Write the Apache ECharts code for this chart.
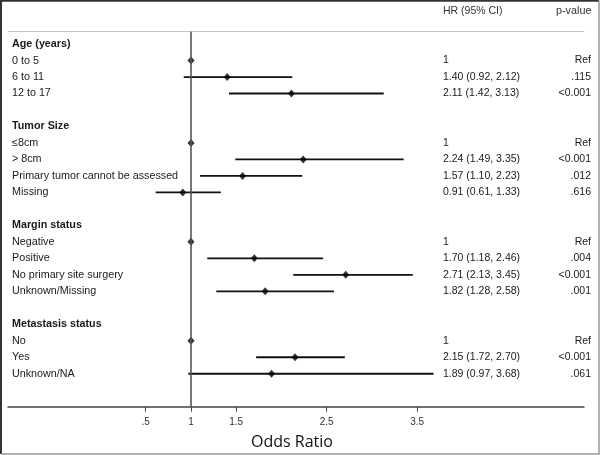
<!DOCTYPE html>
<html>
<head>
<meta charset="utf-8">
<script src="https://cdn.jsdelivr.net/npm/echarts@6/dist/echarts.min.js"></script>
<style>html,body{margin:0;padding:0;background:#fff;}#c{width:600px;height:455px;}</style>
</head>
<body>
<div id="c"></div>
<script>
const rowLabels = ['Age (years)','0 to 5','6 to 11','12 to 17','',
  'Tumor Size','≤8cm','> 8cm','Primary tumor cannot be assessed','Missing','',
  'Margin status','Negative','Positive','No primary site surgery','Unknown/Missing','',
  'Metastasis status','No','Yes','Unknown/NA'];
const headerRows = [0,5,11,17];
const hrValues = [null,1,1.40,2.11,null, null,1,2.24,1.57,0.91,null, null,1,1.70,2.71,1.82,null, null,1,2.15,1.89];
const ciLow    = [null,null,0.92,1.42,null, null,null,1.49,1.10,0.61,null, null,null,1.18,2.13,1.28,null, null,null,1.72,0.97];
const ciHigh   = [null,null,2.12,3.13,null, null,null,3.35,2.23,1.33,null, null,null,2.46,3.45,2.58,null, null,null,2.70,3.68];
const hrText = ['','1','1.40 (0.92, 2.12)','2.11 (1.42, 3.13)','',
  '','1','2.24 (1.49, 3.35)','1.57 (1.10, 2.23)','0.91 (0.61, 1.33)','',
  '','1','1.70 (1.18, 2.46)','2.71 (2.13, 3.45)','1.82 (1.28, 2.58)','',
  '','1','2.15 (1.72, 2.70)','1.89 (0.97, 3.68)'];
const pText = ['','Ref','.115','<0.001','',
  '','Ref','<0.001','.012','.616','',
  '','Ref','.004','<0.001','.001','',
  '','Ref','<0.001','.061'];
const tickValues = [0.5,1,1.5,2.5,3.5];
const tickLabels = ['.5','1','1.5','2.5','3.5'];

const FONT = '"Liberation Sans", Arial, sans-serif';
const chart = echarts.init(document.getElementById('c'));

const pointData = [];
const ciData = [];
const rowData = [];
rowLabels.forEach((l, i) => {
  rowData.push([0, i]);
  if (hrValues[i] != null) pointData.push([hrValues[i], i]);
  if (ciLow[i] != null) ciData.push([ciLow[i], ciHigh[i], i]);
});

chart.setOption({
  animation: false,
  grid: { left: 8, right: 16, top: 31.7, bottom: 48.3 },
  xAxis: [{
    type: 'value', min: -1.022, max: 5.343, position: 'bottom',
    axisLine: { show: true, onZero: false, lineStyle: { color: '#444', width: 1.5 } },
    axisTick: { show: true, customValues: tickValues, length: 5, lineStyle: { color: '#444', width: 1 } },
    axisLabel: { customValues: tickValues, margin: 11, fontSize: 10, color: '#333', fontFamily: FONT,
      formatter: v => tickLabels[tickValues.indexOf(v)] || '' },
    splitLine: { show: false }
  }, {
    type: 'value', min: -1.022, max: 5.343, position: 'top',
    axisLine: { show: true, onZero: false, lineStyle: { color: '#c4c4c4', width: 1 } },
    axisTick: { show: false }, axisLabel: { show: false }, splitLine: { show: false }
  }],
  yAxis: { type: 'value', inverse: true, min: -0.75, max: 22, show: false },
  graphic: [
    { type: 'polyline', shape: { points: [[1, 454], [1, 0.75], [599, 0.75]] }, style: { stroke: '#333', lineWidth: 2, fill: null } },
    { type: 'polyline', shape: { points: [[599, 0.75], [599, 454], [1, 454]] }, style: { stroke: '#999', lineWidth: 1.5, fill: null } },
    { type: 'text', left: 443, top: 6, style: { text: 'HR (95% CI)', font: '10.5px ' + FONT, fill: '#333' } },
    { type: 'text', left: 556, top: 6, style: { text: 'p-value', font: '10.8px ' + FONT, fill: '#333' } },
    { type: 'text', x: 292, y: 442, style: { text: 'Odds Ratio', font: '16px "Open Sans", sans-serif', fill: '#111', align: 'center', verticalAlign: 'middle' } }
  ],
  series: [
    {
      type: 'custom', clip: false, data: rowData, z: 1,
      renderItem: (params, api) => {
        const i = api.value(1);
        const y = api.coord([0, i])[1];
        const bold = headerRows.indexOf(i) >= 0;
        return { type: 'group', children: [
          { type: 'text', style: { text: rowLabels[i], x: 12, y: y, verticalAlign: 'middle', align: 'left',
            font: (bold ? 'bold ' : '') + '10.75px ' + FONT, fill: '#1a1a1a' } },
          { type: 'text', style: { text: hrText[i], x: 443, y: y, verticalAlign: 'middle', align: 'left',
            font: '10.5px ' + FONT, fill: '#1a1a1a' } },
          { type: 'text', style: { text: pText[i], x: 591, y: y, verticalAlign: 'middle', align: 'right',
            font: '10.5px ' + FONT, fill: '#1a1a1a' } }
        ]};
      }
    },
    {
      type: 'custom', data: ciData, z: 2,
      renderItem: (params, api) => {
        const a = api.coord([api.value(0), api.value(2)]);
        const b = api.coord([api.value(1), api.value(2)]);
        return { type: 'line', shape: { x1: a[0], y1: a[1], x2: b[0], y2: b[1] },
          style: { stroke: '#111', lineWidth: 1.8 } };
      }
    },
    {
      type: 'scatter', data: pointData, symbol: 'diamond', symbolSize: [7, 8], z: 3,
      itemStyle: { color: '#000' },
      markLine: {
        silent: true, symbol: 'none', label: { show: false },
        lineStyle: { color: '#555', width: 1.6, type: 'solid' },
        data: [{ xAxis: 1 }]
      }
    }
  ]
});
</script>
</body>
</html>
